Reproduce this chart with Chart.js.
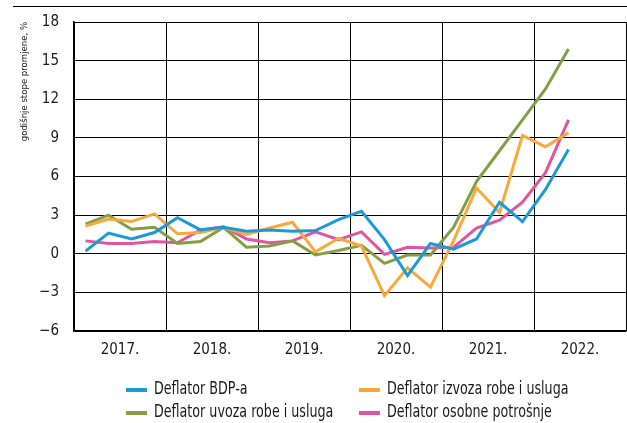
<!DOCTYPE html>
<html>
<head>
<meta charset="utf-8">
<script src="https://cdn.jsdelivr.net/npm/chart.js@4/dist/chart.umd.min.js"></script>
<style>
  html, body { margin: 0; padding: 0; background: #fff; overflow: hidden; }
  #wrap { width: 627px; height: 423px; position: relative; }
</style>
</head>
<body>
<div id="wrap"><canvas id="c" width="627" height="423"></canvas></div>
<script>
// Year labels (x axis) and quarters 2017 Q1 .. 2022 Q2
const years = ['2017.', '2018.', '2019.', '2020.', '2021.', '2022.'];
const quarters = ['2017 Q1','2017 Q2','2017 Q3','2017 Q4','2018 Q1','2018 Q2','2018 Q3','2018 Q4',
  '2019 Q1','2019 Q2','2019 Q3','2019 Q4','2020 Q1','2020 Q2','2020 Q3','2020 Q4',
  '2021 Q1','2021 Q2','2021 Q3','2021 Q4','2022 Q1','2022 Q2'];

const deflatorBDP     = [0.2, 1.6, 1.15, 1.65, 2.8, 1.85, 2.05, 1.75, 1.85, 1.75, 1.8, 2.65, 3.3, 1.1, -1.7, 0.8, 0.35, 1.15, 4.0, 2.5, 5.0, 8.1];
const deflatorIzvoz   = [2.15, 2.7, 2.5, 3.1, 1.55, 1.65, 2.05, 1.5, 2.0, 2.45, 0.15, 1.2, 0.6, -3.25, -1.1, -2.6, 1.0, 5.1, 3.2, 9.2, 8.3, 9.4];
const deflatorUvoz    = [2.3, 3.0, 1.9, 2.05, 0.8, 0.95, 2.05, 0.5, 0.6, 1.0, -0.1, 0.25, 0.65, -0.75, -0.1, -0.1, 2.05, 5.6, 8.0, 10.4, 12.8, 15.9];
const deflatorOsobna  = [1.0, 0.8, 0.8, 0.95, 0.85, 1.85, 2.1, 1.15, 0.85, 1.0, 1.7, 1.1, 1.7, -0.05, 0.5, 0.45, 0.5, 2.0, 2.6, 4.0, 6.3, 10.4];

const seriesNames = ['Deflator BDP-a', 'Deflator izvoza robe i usluga', 'Deflator uvoza robe i usluga', 'Deflator osobne potrošnje'];
const yTicks = [-6, -3, 0, 3, 6, 9, 12, 15, 18];

const FONT = "'Liberation Sans Narrow', 'Arial Narrow', 'DejaVu Sans Condensed', sans-serif";
Chart.defaults.font.family = FONT;
Chart.defaults.color = '#1a1a1a';

const colors = ['#1b9ad6', '#f9a83b', '#849e45', '#e0569b'];
const series = [deflatorBDP, deflatorIzvoz, deflatorUvoz, deflatorOsobna];

const toPoints = arr => arr.map((v, i) => ({ x: i + 0.5, y: v }));

const datasets = series.map((s, k) => ({
  label: seriesNames[k],
  data: toPoints(s),
  borderColor: colors[k],
  backgroundColor: colors[k],
  borderWidth: 3,
  pointRadius: 0,
  tension: 0,
  fill: false
}));

const extras = {
  id: 'extras',
  afterDraw(chart) {
    const ctx = chart.ctx;
    ctx.save();
    // top rule
    ctx.strokeStyle = '#000';
    ctx.lineWidth = 1;
    ctx.beginPath();
    ctx.moveTo(13, 6.5);
    ctx.lineTo(627, 6.5);
    ctx.stroke();
    // legend (2 columns)
    const cols = [126, 359];
    const rows = [390, 413];
    ctx.textBaseline = 'middle';
    ctx.textAlign = 'left';
    chart.data.datasets.forEach((ds, i) => {
      const cx = cols[i % 2];
      const cy = rows[Math.floor(i / 2)];
      ctx.strokeStyle = ds.borderColor;
      ctx.lineWidth = 4;
      ctx.beginPath();
      ctx.moveTo(cx, cy);
      ctx.lineTo(cx + 21, cy);
      ctx.stroke();
      ctx.save();
      ctx.translate(cx + 28, cy);
      ctx.scale(0.83, 1);
      ctx.font = "17px " + FONT;
      ctx.fillStyle = '#1a1a1a';
      ctx.fillText(ds.label, 0, 0);
      ctx.restore();
    });
    ctx.restore();
  }
};

new Chart(document.getElementById('c'), {
  type: 'line',
  data: { datasets },
  options: {
    responsive: false,
    animation: false,
    layout: { padding: { top: 22, right: 1, bottom: 63, left: 0 } },
    plugins: { legend: { display: false }, tooltip: { enabled: false } },
    scales: {
      x: {
        type: 'linear',
        min: 0,
        max: 24,
        border: { display: true, color: '#000', width: 1.5 },
        grid: {
          drawTicks: false,
          color: c => (c.tick && c.tick.value % 4 === 0) ? '#000' : 'rgba(0,0,0,0)',
          lineWidth: 1
        },
        afterBuildTicks: scale => {
          const t = [];
          for (let v = 0; v <= 24; v += 2) t.push({ value: v });
          scale.ticks = t;
        },
        afterFit: scale => {
          scale.height = 29;
          scale.paddingLeft = 0;
          scale.paddingRight = 0;
        },
        ticks: {
          autoSkip: false,
          maxRotation: 0,
          padding: 10,
          font: { size: 15 },
          callback: v => (v % 4 === 2) ? years[(v - 2) / 4] : ''
        }
      },
      y: {
        min: -6,
        max: 18,
        afterFit: scale => {
          scale.width = 74;
          scale.paddingTop = 0;
          scale.paddingBottom = 0;
        },
        afterBuildTicks: scale => { scale.ticks = yTicks.map(v => ({ value: v })); },
        border: { display: true, color: '#000', width: 1.5 },
        grid: { drawTicks: false, color: '#000', lineWidth: 1 },
        ticks: {
          padding: 15,
          font: { size: 15 },
          callback: v => v < 0 ? '\u2212' + Math.abs(v) : String(v)
        },
        title: {
          display: true,
          text: 'godišnje stope promjene, %',
          align: 'end',
          font: { size: 9.5 },
          padding: { top: 19, bottom: 0 },
          color: '#1a1a1a'
        }
      }
    }
  },
  plugins: [extras]
});
</script>
</body>
</html>
